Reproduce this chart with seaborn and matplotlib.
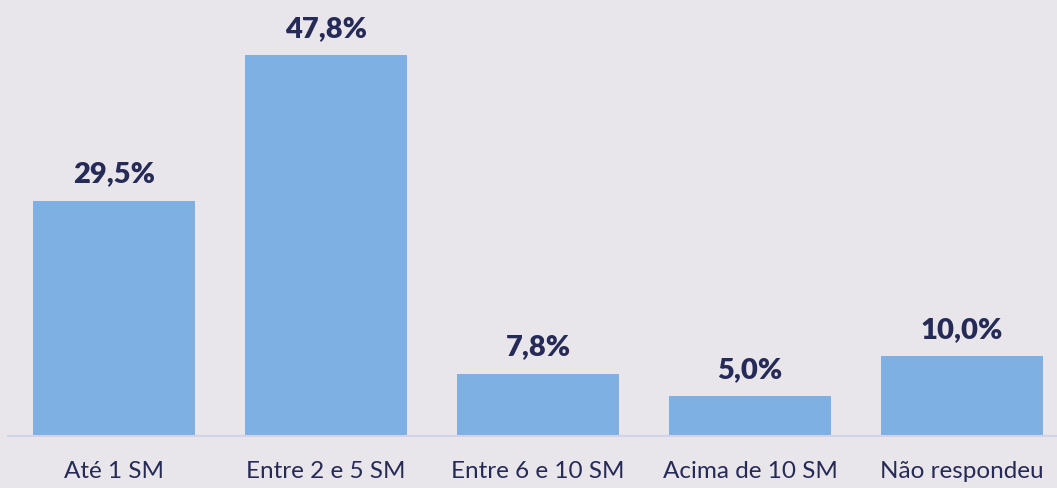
import matplotlib
matplotlib.use('Agg')
import matplotlib.pyplot as plt
import seaborn as sns
import pandas as pd

# Data
categories = ['Até 1 SM', 'Entre 2 e 5 SM', 'Entre 6 e 10 SM', 'Acima de 10 SM', 'Não respondeu']
percentages = [29.5, 47.8, 7.8, 5.0, 10.0]

df = pd.DataFrame({'Faixa': categories, 'Percentual': percentages})

bg = '#e8e6ea'
bar_color = '#7eb0e4'
text_color = '#262a56'

sns.set_theme(style='white')
plt.rcParams['font.family'] = ['Lato', 'DejaVu Sans']

fig = plt.figure(figsize=(10.57, 4.89), dpi=100, facecolor=bg)
ax = fig.add_axes([8 / 1057, 0.106, 1060 / 1057, 0.848])
ax.set_facecolor(bg)

sns.barplot(data=df, x='Faixa', y='Percentual', color=bar_color, width=0.764,
            saturation=1, linewidth=0, ax=ax)

# value labels
for i, v in enumerate(percentages):
    label = f'{v:.1f}%'.replace('.', ',')
    ax.text(i, v + 1.8, label, ha='center', va='bottom', fontsize=21,
            fontweight='heavy', color=text_color)

ax.set_xlim(-0.5, 4.5)
ax.set_ylim(0, 52)
ax.set_xlabel('')
ax.set_ylabel('')
ax.set_yticks([])
ax.tick_params(axis='x', length=0, pad=17, labelsize=17.5, labelcolor=text_color)

for side in ['top', 'right', 'left']:
    ax.spines[side].set_visible(False)
ax.spines['bottom'].set_color('#d2d2e8')
ax.spines['bottom'].set_linewidth(1.5)

fig.savefig('out.png', dpi=100, facecolor=bg)
